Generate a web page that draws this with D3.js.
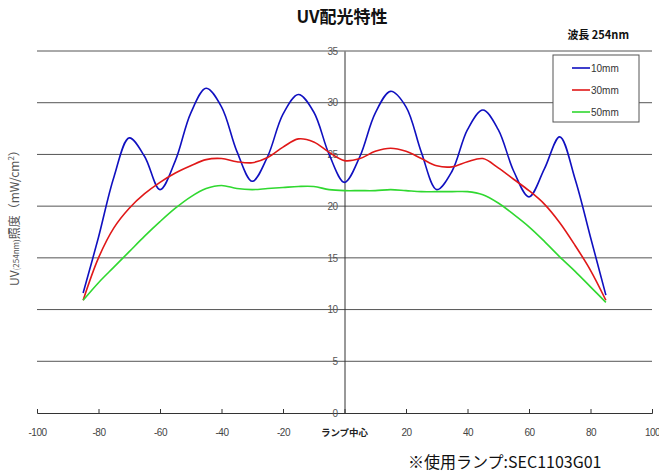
<!DOCTYPE html>
<html>
<head>
<meta charset="utf-8">
<script src="https://cdn.jsdelivr.net/npm/d3@7"></script>
<style>
	body { margin: 0; background: #fff; }
	svg { display: block; }
</style>
</head>
<body>
<div id="chart"></div>
<script>
// positions along the lamp (mm) and irradiance for each distance
const positions = [-85, -80, -75, -70, -65, -60, -55, -50, -45, -40, -35, -30, -25, -20, -15, -10, -5, 0,
	5, 10, 15, 20, 25, 30, 35, 40, 45, 50, 55, 60, 65, 70, 75, 80, 85];
const uv10mm = [11.6, 17.0, 22.8, 26.6, 24.8, 21.6, 24.4, 29.0, 31.4, 29.6, 25.3, 22.4, 24.8, 28.9, 30.8, 29.1, 25.0, 22.3,
	24.8, 29.0, 31.1, 29.6, 25.2, 21.6, 23.4, 27.4, 29.3, 27.4, 23.4, 20.9, 23.6, 26.7, 22.6, 17.0, 11.4];
const uv30mm = [10.9, 15.0, 17.9, 19.8, 21.2, 22.3, 23.2, 23.9, 24.5, 24.6, 24.3, 24.2, 24.7, 25.7, 26.5, 26.2, 25.2, 24.4,
	24.6, 25.3, 25.6, 25.3, 24.6, 23.9, 23.8, 24.3, 24.6, 23.7, 22.6, 21.5, 20.2, 18.4, 16.2, 13.8, 10.9];
const uv50mm = [10.9, 12.6, 14.1, 15.6, 17.1, 18.5, 19.8, 20.9, 21.7, 22.0, 21.7, 21.6, 21.7, 21.8, 21.9, 21.9, 21.6, 21.5,
	21.5, 21.5, 21.6, 21.5, 21.4, 21.4, 21.4, 21.4, 21.1, 20.3, 19.2, 18.0, 16.6, 15.1, 13.7, 12.2, 10.7];
const seriesNames = ["10mm", "30mm", "50mm"];
const seriesColors = ["#1010c0", "#e01818", "#30d830"];
const xTicks = [-100, -80, -60, -40, -20, 0, 20, 40, 60, 80, 100];
const yTicks = [0, 5, 10, 15, 20, 25, 30, 35];

const W = 659, H = 475;
const svg = d3.select("#chart").append("svg")
	.attr("width", W)
	.attr("height", H)
	.style("font-family", "'Liberation Sans', Arial, sans-serif");

const x = d3.scaleLinear().domain([-100, 100]).range([37, 652]);
const y = d3.scaleLinear().domain([0, 35]).range([413, 51]);

// horizontal gridlines
svg.append("g")
	.selectAll("line")
	.data(yTicks.filter((d) => d > 0))
	.join("line")
	.attr("x1", x(-100))
	.attr("x2", x(100))
	.attr("y1", (d) => y(d))
	.attr("y2", (d) => y(d))
	.attr("stroke", "#555")
	.attr("stroke-width", 1);

// x axis with small ticks pointing up
const xAxis = svg.append("g")
	.attr("transform", `translate(0,${y(0)})`)
	.call(d3.axisBottom(x).tickValues(xTicks).tickSize(-4).tickFormat((d) => (d === 0 ? "" : d)));
xAxis.select(".domain").attr("stroke", "#333");
xAxis.selectAll(".tick line").attr("stroke", "#333");
xAxis.selectAll(".tick text")
	.attr("y", 16)
	.attr("fill", "#444")
	.style("font-size", "10px")
	.style("letter-spacing", "-0.5px");

svg.append("text")
	.attr("x", x(0))
	.attr("y", 436)
	.attr("text-anchor", "middle")
	.attr("fill", "#222")
	.style("font-family", "'Noto Sans CJK JP', sans-serif")
	.style("font-size", "9.5px")
	.style("font-weight", "bold")
	.text("ランプ中心");

// y axis at the lamp centre
const yAxis = svg.append("g")
	.attr("transform", `translate(${x(0)},0)`)
	.call(d3.axisLeft(y).tickValues(yTicks).tickSize(0).tickPadding(7));
yAxis.select(".domain").attr("stroke", "#333");
yAxis.selectAll(".tick text")
	.attr("fill", "#555")
	.style("font-size", "10px")
	.style("letter-spacing", "-0.5px");

// curves
const allSeries = [uv10mm, uv30mm, uv50mm];
const line = d3.line()
	.x((d, i) => x(positions[i]))
	.y((d) => y(d))
	.curve(d3.curveCatmullRom.alpha(0.5));

svg.append("g")
	.selectAll("path")
	.data(allSeries)
	.join("path")
	.attr("d", line)
	.attr("fill", "none")
	.attr("stroke", (d, i) => seriesColors[i])
	.attr("stroke-width", 1.6);

// legend
const legend = svg.append("g").attr("transform", "translate(553,55)");
legend.append("rect")
	.attr("width", 86)
	.attr("height", 67)
	.attr("fill", "#fff")
	.attr("stroke", "#555");
seriesNames.forEach((name, i) => {
	const ly = 13 + i * 22;
	legend.append("line")
		.attr("x1", 19)
		.attr("x2", 37)
		.attr("y1", ly)
		.attr("y2", ly)
		.attr("stroke", seriesColors[i])
		.attr("stroke-width", 1.6);
	legend.append("text")
		.attr("x", 38)
		.attr("y", ly + 4)
		.attr("fill", "#333")
		.style("font-size", "10px")
		.text(name);
});

// titles
svg.append("text")
	.attr("x", 342)
	.attr("y", 23)
	.attr("text-anchor", "middle")
	.attr("fill", "#111")
	.style("font-family", "'Noto Sans CJK JP', sans-serif")
	.style("font-size", "17px")
	.style("font-weight", "bold")
	.text("UV配光特性");

svg.append("text")
	.attr("x", 629)
	.attr("y", 39)
	.attr("text-anchor", "end")
	.attr("fill", "#111")
	.style("font-family", "'Noto Sans CJK JP', sans-serif")
	.style("font-size", "11px")
	.style("font-weight", "bold")
	.text("波長 254nm");

// y axis title
const ylab = svg.append("text")
	.attr("transform", "translate(19,215) rotate(-90)")
	.attr("text-anchor", "middle")
	.attr("fill", "#555")
	.style("font-family", "'Noto Sans CJK JP', sans-serif")
	.style("font-size", "12px");
ylab.append("tspan").text("UV");
ylab.append("tspan").style("font-size", "8px").text("(254nm)");
ylab.append("tspan").text("照度（mW/cm");
ylab.append("tspan").attr("dy", -5).style("font-size", "8px").text("2");
ylab.append("tspan").attr("dy", 5).text("）");

// footnote
svg.append("text")
	.attr("x", 408)
	.attr("y", 468)
	.attr("fill", "#111")
	.style("font-family", "'Noto Sans CJK JP', sans-serif")
	.style("font-size", "16px")
	.text("※使用ランプ:SEC1103G01");
</script>
</body>
</html>
